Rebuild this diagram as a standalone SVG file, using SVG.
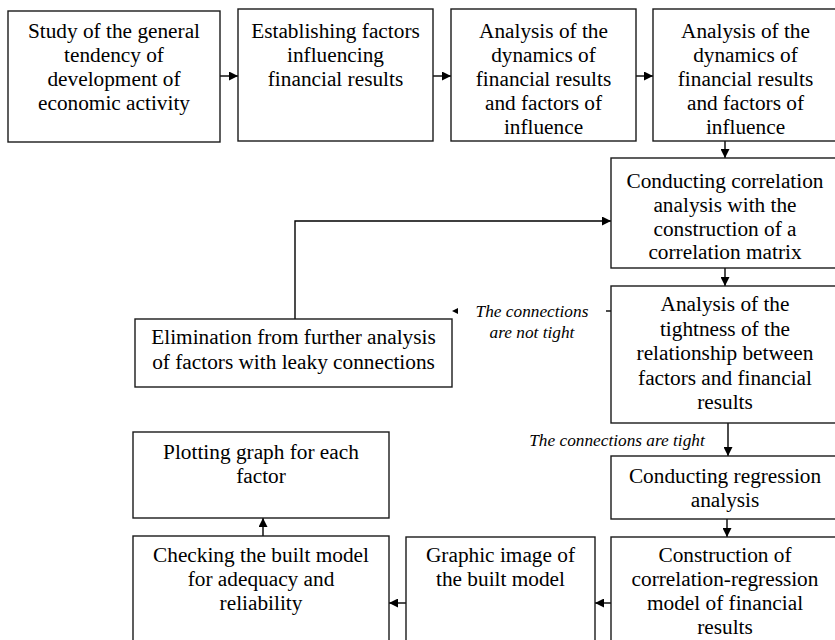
<svg xmlns="http://www.w3.org/2000/svg" width="835" height="640" viewBox="0 0 835 640">
<style>
.box{fill:#fff;stroke:#1a1a1a;stroke-width:1.4}
.t{font-family:"Liberation Serif","Times New Roman",serif;font-size:21.3px;fill:#000;text-anchor:middle}
.lbl{font-family:"Liberation Serif","Times New Roman",serif;font-size:17.3px;font-style:italic;fill:#000;text-anchor:middle}
.c{fill:none;stroke:#000;stroke-width:1.4}
</style>
<defs>
<marker id="ah" markerUnits="userSpaceOnUse" markerWidth="9" markerHeight="9" viewBox="0 0 10 10" refX="10" refY="5" orient="auto">
<path d="M0,0 L10,5 L0,10 z" fill="#000"/>
</marker>
</defs>
<rect width="835" height="640" fill="#fff"/>
<g id="connectors">
<path class="c" d="M220,76 H238" marker-end="url(#ah)"/>
<path class="c" d="M433,76 H451" marker-end="url(#ah)"/>
<path class="c" d="M636,76 H653" marker-end="url(#ah)"/>
<path class="c" d="M725,141 V158" marker-end="url(#ah)"/>
<path class="c" d="M725,268 V286" marker-end="url(#ah)"/>
<path class="c" d="M295,319 V221 H611" marker-end="url(#ah)"/>
<path class="c" d="M611,311 H606"/>
<path d="M452,311 L458,308 L458,314 z" fill="#000"/>
<path class="c" d="M728,423 V456" marker-end="url(#ah)"/>
<path class="c" d="M727,519 V537" marker-end="url(#ah)"/>
<path class="c" d="M611,603 H595" marker-end="url(#ah)"/>
<path class="c" d="M406,603 H389" marker-end="url(#ah)"/>
<path class="c" d="M263,536 V518" marker-end="url(#ah)"/>
<text class="lbl" x="532" y="317">The connections</text>
<text class="lbl" x="532" y="338">are not tight</text>
<text class="lbl" x="617" y="446">The connections are tight</text>
</g>
<g id="n1">
<rect class="box" x="8" y="11" width="212" height="131"/>
<text class="t" x="114" y="38">Study of the general</text>
<text class="t" x="114" y="62">tendency of</text>
<text class="t" x="114" y="86">development of</text>
<text class="t" x="114" y="110">economic activity</text>
</g>
<g id="n2">
<rect class="box" x="238" y="9" width="195" height="132"/>
<text class="t" x="335.5" y="38">Establishing factors</text>
<text class="t" x="335.5" y="62">influencing</text>
<text class="t" x="335.5" y="86">financial results</text>
</g>
<g id="n3">
<rect class="box" x="451" y="9" width="185" height="132"/>
<text class="t" x="543.5" y="38">Analysis of the</text>
<text class="t" x="543.5" y="62">dynamics of</text>
<text class="t" x="543.5" y="86">financial results</text>
<text class="t" x="543.5" y="110">and factors of</text>
<text class="t" x="543.5" y="134">influence</text>
</g>
<g id="n4">
<rect class="box" x="653" y="9" width="186" height="132"/>
<text class="t" x="745.5" y="38">Analysis of the</text>
<text class="t" x="745.5" y="62">dynamics of</text>
<text class="t" x="745.5" y="86">financial results</text>
<text class="t" x="745.5" y="110">and factors of</text>
<text class="t" x="745.5" y="134">influence</text>
</g>
<g id="n5">
<rect class="box" x="611" y="158" width="228" height="110"/>
<text class="t" x="725" y="188">Conducting correlation</text>
<text class="t" x="725" y="212">analysis with the</text>
<text class="t" x="725" y="236">construction of a</text>
<text class="t" x="725" y="259">correlation matrix</text>
</g>
<g id="n6">
<rect class="box" x="611" y="286" width="228" height="137"/>
<text class="t" x="725" y="311">Analysis of the</text>
<text class="t" x="725" y="335.5">tightness of the</text>
<text class="t" x="725" y="360">relationship between</text>
<text class="t" x="725" y="384.5">factors and financial</text>
<text class="t" x="725" y="409">results</text>
</g>
<g id="n7">
<rect class="box" x="135" y="319" width="317" height="68"/>
<text class="t" x="293.5" y="344">Elimination from further analysis</text>
<text class="t" x="293.5" y="369">of factors with leaky connections</text>
</g>
<g id="n8">
<rect class="box" x="611" y="456" width="228" height="63"/>
<text class="t" x="725" y="483">Conducting regression</text>
<text class="t" x="725" y="507">analysis</text>
</g>
<g id="n9">
<rect class="box" x="611" y="537" width="228" height="110"/>
<text class="t" x="725" y="562">Construction of</text>
<text class="t" x="725" y="586">correlation-regression</text>
<text class="t" x="725" y="610">model of financial</text>
<text class="t" x="725" y="634">results</text>
</g>
<g id="n10">
<rect class="box" x="406" y="537" width="189" height="110"/>
<text class="t" x="500.5" y="562">Graphic image of</text>
<text class="t" x="500.5" y="586">the built model</text>
</g>
<g id="n11">
<rect class="box" x="133" y="536" width="256" height="111"/>
<text class="t" x="261" y="562">Checking the built model</text>
<text class="t" x="261" y="586">for adequacy and</text>
<text class="t" x="261" y="610">reliability</text>
</g>
<g id="n12">
<rect class="box" x="133" y="432" width="256" height="86"/>
<text class="t" x="261" y="459">Plotting graph for each</text>
<text class="t" x="261" y="483">factor</text>
</g>
</svg>
